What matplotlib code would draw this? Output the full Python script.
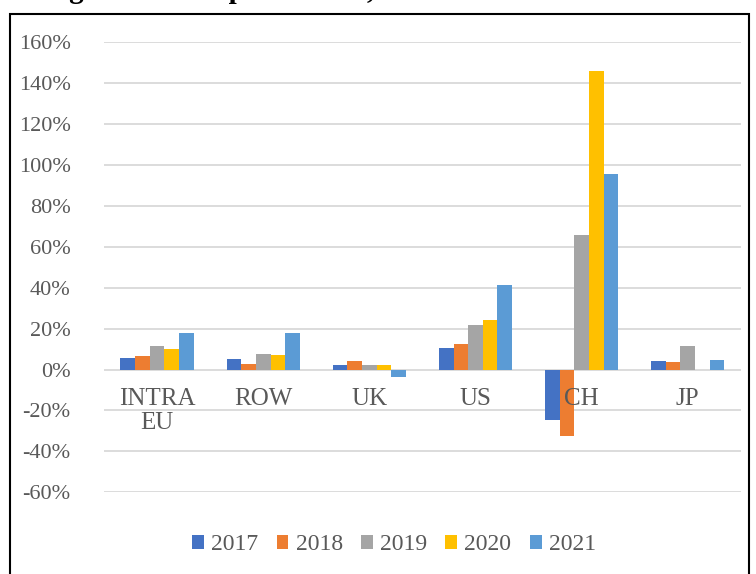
import matplotlib.pyplot as plt
import matplotlib.patches as patches
import matplotlib.transforms as mtransforms
import numpy as np

plt.rcParams['font.family'] = ['Liberation Serif', 'DejaVu Serif']

categories = ['INTRA\nEU', 'ROW', 'UK', 'US', 'CH', 'JP']
years = ['2017', '2018', '2019', '2020', '2021']
growth = {
    '2017': [5.7, 5.2, 2.3, 10.4, -24.9, 4.4],
    '2018': [6.7, 2.8, 4.1, 12.3, -32.7, 3.8],
    '2019': [11.4, 7.7, 2.1, 21.8, 65.8, 11.7],
    '2020': [9.8, 7.3, 2.1, 24.0, 146.0, 0.0],
    '2021': [17.7, 17.7, -3.7, 41.5, 95.8, 4.6],
}
colors = ['#4472C4', '#ED7D31', '#A5A5A5', '#FFC000', '#5B9BD5']

fig = plt.figure(figsize=(7.56, 5.74), dpi=100)
ax = fig.add_axes([0.1376, 0.1425, 0.8424, 0.7838])

x = np.arange(len(categories))
w = 0.138
for i, yr in enumerate(years):
    vals = np.array(growth[yr]) / 100
    ax.bar(x + (i - 2) * w, vals, w, color=colors[i], label=yr, zorder=3)

ax.set_xlim(-0.5, len(categories) - 0.5)
ax.set_ylim(-0.6, 1.6)
ticks = np.arange(-0.6, 1.61, 0.2)
ax.set_yticks(ticks)
ax.set_yticklabels(['{:.0f}%'.format(t * 100) for t in ticks])
ax.tick_params(axis='y', length=0, pad=24, labelsize=16, labelcolor='#595959')
ax.set_xticks([])
ax.grid(axis='y', color='#D9D9D9', linewidth=1.3, zorder=0)
for s in ax.spines.values():
    s.set_visible(False)

# category names sit just under the zero line
trans = mtransforms.offset_copy(ax.transData, fig=fig, x=0, y=-13, units='points')
for xi, c in zip(x, categories):
    ax.text(xi, 0, c, ha='center', va='top', fontsize=18, color='#595959',
            linespacing=1.15, transform=trans, zorder=4)

leg = fig.legend(loc='center', bbox_to_anchor=(394 / 756, 1 - 545 / 574), ncol=5,
                 frameon=False, fontsize=17, handlelength=0.5, handleheight=0.5,
                 handletextpad=0.3, columnspacing=0.78)
for t in leg.get_texts():
    t.set_color('#595959')

# chart frame
fig.add_artist(patches.Rectangle((10 / 756, -0.05), 739 / 756, 1 - 14 / 574 + 0.05,
                                 transform=fig.transFigure, fill=False,
                                 edgecolor='black', linewidth=1.5))

# heading above the frame, only its lowest strokes fall inside the page
fig.text(-45 / 756, 1 + 2 / 574, 'Nominal growth of import values, 2017-2021', fontsize=21,
         fontweight='bold', va='baseline', ha='left')

fig.savefig('out.png', dpi=100)
